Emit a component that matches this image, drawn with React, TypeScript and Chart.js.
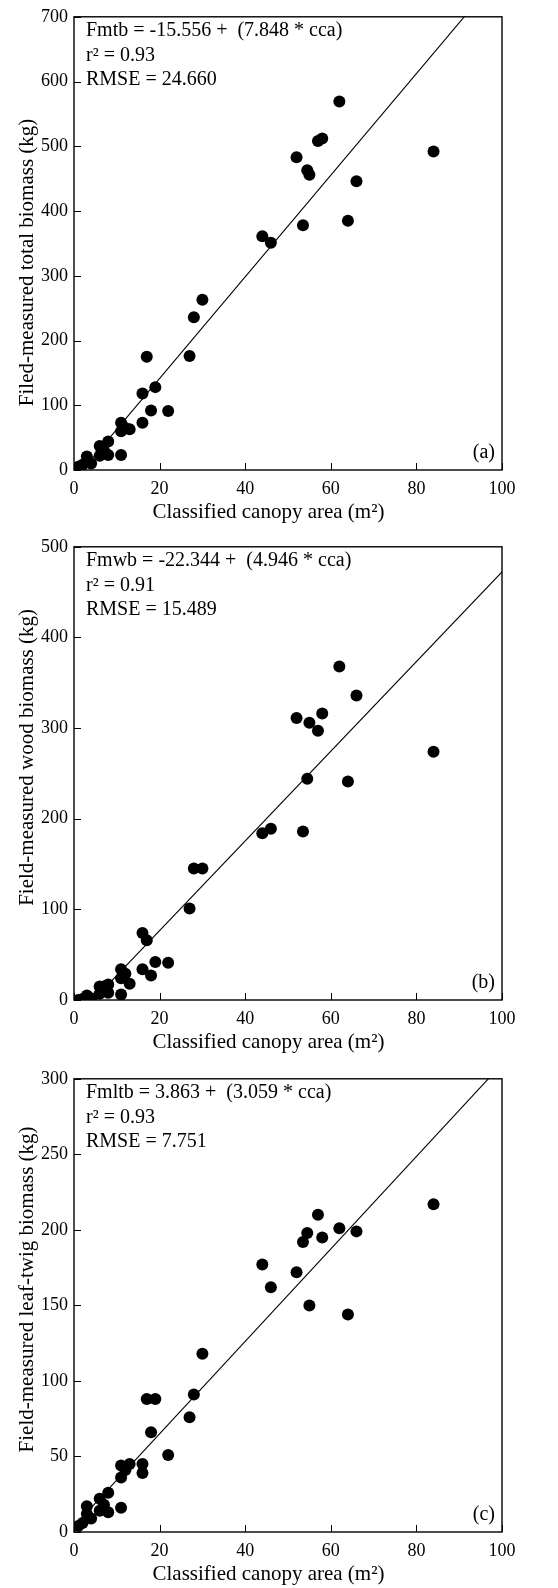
import { useEffect, useRef } from "react";
import { Chart, registerables } from "chart.js";

Chart.register(...registerables);

const FONT = "'Liberation Serif', 'Times New Roman', serif";

// ---------- data ----------
const xAxisTitle = "Classified canopy area (m²)";

// Panel (a): total biomass
const canopyA = [1, 2, 3, 3.5, 4, 6, 6, 7, 8, 8, 11, 11, 11, 12, 13, 16, 16, 17, 18, 19, 22, 27, 28, 30, 44, 46, 52, 53.5, 54.5, 55, 57, 58, 62, 64, 66, 84];
const totalBiomass = [5, 8, 21, 12, 10, 22, 37, 30, 44, 23, 23, 73, 60, 65, 63, 73, 118, 175, 92, 128, 91, 176, 236, 263, 361, 351, 483, 378, 463, 456, 508, 512, 569, 385, 446, 492];
const coefA = [-15.556, 7.848];
const textA = ["Fmtb = -15.556 +  (7.848 * cca)", "r² = 0.93", "RMSE = 24.660"];

// Panel (b): wood biomass
const canopyB = [1, 2, 3, 3.5, 4, 6, 6, 7, 8, 8, 11, 11, 11, 12, 13, 16, 16, 17, 18, 19, 22, 27, 28, 30, 44, 46, 52, 53.5, 54.5, 55, 57, 58, 62, 64, 66, 84];
const woodBiomass = [0, 1, 5, 0, 2, 7, 15, 15, 17, 8, 6, 34, 24, 29, 18, 34, 74, 66, 27, 42, 41, 101, 145, 145, 184, 189, 311, 186, 244, 306, 297, 316, 368, 241, 336, 274];
const coefB = [-22.344, 4.946];
const textB = ["Fmwb = -22.344 +  (4.946 * cca)", "r² = 0.91", "RMSE = 15.489"];

// Panel (c): leaf-twig biomass
const canopyC = [1, 2, 3, 3, 4, 6, 6, 7, 8, 8, 11, 11, 11, 12, 13, 16, 16, 17, 18, 19, 22, 27, 28, 30, 44, 46, 52, 53.5, 54.5, 55, 57, 58, 62, 64, 66, 84];
const leafTwigBiomass = [4, 6, 17, 12, 9, 22, 14, 18, 26, 13, 16, 44, 36, 41, 45, 45, 39, 88, 66, 88, 51, 76, 91, 118, 177, 162, 172, 192, 198, 150, 210, 195, 201, 144, 199, 217];
const coefC = [3.863, 3.059];
const textC = ["Fmltb = 3.863 +  (3.059 * cca)", "r² = 0.93", "RMSE = 7.751"];

const yMaxes = [700, 500, 300];
const ySteps = [100, 100, 50];
const yTitles = [
  "Filed-measured total biomass (kg)",
  "Field-measured wood biomass (kg)",
  "Field-measured leaf-twig biomass (kg)",
];
const panelLabels = ["(a)", "(b)", "(c)"];

type PanelProps = {
  xs: number[];
  ys: number[];
  coef: number[];
  lines: string[];
  yMax: number;
  yStep: number;
  yTitle: string;
  yTitleShift: number;
  label: string;
};

const decorPlugin = {
  id: "decor",
  afterDraw(chart: any, _args: any, opts: any) {
    const { ctx, chartArea } = chart;
    const { left, right, top, bottom } = chartArea;
    const xs = chart.scales.x;
    const ys = chart.scales.y;
    ctx.save();
    ctx.strokeStyle = "#000";
    ctx.lineWidth = 1.4;
    ctx.strokeRect(left, top, right - left, bottom - top);
    ctx.lineWidth = 1;
    ctx.beginPath();
    xs.ticks.forEach((t: any) => {
      const px = Math.round(xs.getPixelForValue(t.value)) + 0.5;
      ctx.moveTo(px, bottom);
      ctx.lineTo(px, bottom - 7);
    });
    ys.ticks.forEach((t: any) => {
      const py = Math.round(ys.getPixelForValue(t.value)) + 0.5;
      ctx.moveTo(left, py);
      ctx.lineTo(left + 7, py);
    });
    ctx.stroke();

    ctx.fillStyle = "#000";
    // annotation lines
    ctx.font = `20px ${FONT}`;
    ctx.textAlign = "left";
    ctx.textBaseline = "middle";
    const offs = [14, 38.5, 63];
    (opts.lines as string[]).forEach((s, i) => {
      ctx.fillText(s, left + 12, top + offs[i]);
    });
    // panel label
    ctx.textAlign = "right";
    ctx.textBaseline = "alphabetic";
    ctx.fillText(opts.label, right - 7, bottom - 12);
    // x title
    ctx.font = `21px ${FONT}`;
    ctx.textAlign = "center";
    ctx.textBaseline = "middle";
    ctx.fillText(opts.xTitle, 268.5, bottom + 42);
    // y title
    ctx.translate(33, (top + bottom) / 2 + opts.yTitleShift);
    ctx.rotate(-Math.PI / 2);
    ctx.textAlign = "center";
    ctx.textBaseline = "alphabetic";
    ctx.fillText(opts.yTitle, 0, 0);
    ctx.restore();
  },
};

function Panel(p: PanelProps) {
  const ref = useRef<HTMLCanvasElement>(null);
  useEffect(() => {
    if (!ref.current) return;
    const pts = p.xs.map((x, i) => ({ x, y: p.ys[i] }));
    const x0 = Math.min(...p.xs);
    const x1 = 100;
    const line = [
      { x: x0, y: p.coef[0] + p.coef[1] * x0 },
      { x: x1, y: p.coef[0] + p.coef[1] * x1 },
    ];
    const chart = new Chart(ref.current, {
      type: "scatter",
      data: {
        datasets: [
          {
            type: "line",
            data: line,
            borderColor: "#000",
            borderWidth: 1.1,
            pointRadius: 0,
            fill: false,
          } as any,
          {
            type: "scatter",
            data: pts,
            backgroundColor: "#000",
            borderWidth: 0,
            pointRadius: 6,
          },
        ],
      },
      options: {
        animation: false,
        responsive: false,
        events: [],
        layout: { padding: { top: 15, right: 56, left: 0, bottom: 0 } },
        plugins: {
          legend: { display: false },
          tooltip: { enabled: false },
          decor: {
            lines: p.lines,
            label: p.label,
            yTitle: p.yTitle,
            yTitleShift: p.yTitleShift,
            xTitle: xAxisTitle,
          },
        } as any,
        scales: {
          x: {
            type: "linear",
            min: 0,
            max: 100,
            grid: { display: false, drawTicks: false },
            border: { display: false },
            ticks: {
              stepSize: 20,
              color: "#000",
              padding: 8,
              maxRotation: 0,
              font: { family: FONT, size: 18 },
            },
            afterFit: (s: any) => {
              s.height = 60;
            },
          },
          y: {
            type: "linear",
            min: 0,
            max: p.yMax,
            grid: { display: false, drawTicks: false },
            border: { display: false },
            ticks: {
              stepSize: p.yStep,
              color: "#000",
              padding: 6,
              font: { family: FONT, size: 18 },
            },
            afterFit: (s: any) => {
              s.width = 74;
            },
          },
        },
      },
      plugins: [decorPlugin],
    });
    return () => chart.destroy();
  }, []);
  return <canvas ref={ref} width={558} height={530} style={{ display: "block", width: 558, height: 530 }} />;
}

const panelTops = [0, 530, 1062];
const titleShifts = [19, -16, -16];

export default function App() {
  const xsAll = [canopyA, canopyB, canopyC];
  const ysAll = [totalBiomass, woodBiomass, leafTwigBiomass];
  const coefs = [coefA, coefB, coefC];
  const texts = [textA, textB, textC];
  return (
    <div
      style={{
        position: "absolute",
        left: 0,
        top: 0,
        width: 558,
        height: 1588,
        overflow: "hidden",
        background: "#fff",
      }}
    >
      {[0, 1, 2].map((i) => (
        <div key={i} style={{ position: "absolute", left: 0, top: panelTops[i] }}>
          <Panel
            xs={xsAll[i]}
            ys={ysAll[i]}
            coef={coefs[i]}
            lines={texts[i]}
            yMax={yMaxes[i]}
            yStep={ySteps[i]}
            yTitle={yTitles[i]}
            yTitleShift={titleShifts[i]}
            label={panelLabels[i]}
          />
        </div>
      ))}
    </div>
  );
}
